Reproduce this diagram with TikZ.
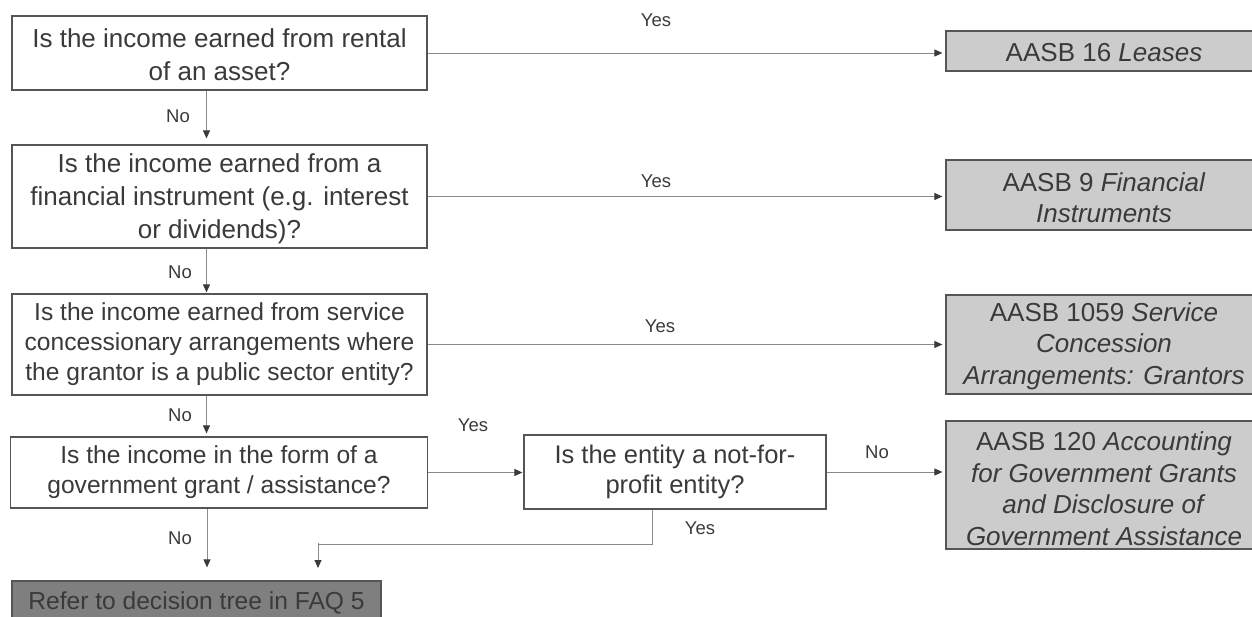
\documentclass[tikz,border=0pt]{standalone}
\usepackage{fontspec}
\setmainfont{Liberation Sans}
\usetikzlibrary{arrows.meta,calc}
\definecolor{txt}{HTML}{3A3A3A}
\definecolor{bord}{HTML}{555555}
\definecolor{lin}{HTML}{8A8A8A}
\definecolor{lightfill}{HTML}{CCCCCC}
\definecolor{darkfill}{HTML}{7F7F7F}
\tikzset{
  qbox/.style={draw=bord, line width=1.2pt, fill=white, text=txt, align=center, inner sep=0pt},
  big/.style={font=\fontsize{26}{33}\selectfont},
  mid/.style={font=\fontsize{24.6}{30}\selectfont},
  rbox/.style={draw=bord, line width=1.2pt, fill=lightfill, text=txt, align=center, inner sep=0pt, font=\fontsize{26}{31.5}\selectfont},
  lbl/.style={text=txt, font=\fontsize{18.5}{22}\selectfont, inner sep=0pt},
  conn/.style={draw=lin, line width=0.9pt, -{Triangle[length=8pt,width=7pt,color=txt]}},
  plain/.style={draw=lin, line width=0.9pt}
}
\begin{document}
\begin{tikzpicture}[x=1pt,y=-1pt]
\useasboundingbox (0,0) rectangle (1252,617);
\clip (0,0) rectangle (1252,617);
% question boxes
\node[qbox,big,minimum width=415pt,minimum height=74pt] (q1) at (219.5,53) {\rule{0pt}{22pt}Is the income earned from rental\\of an asset?};
\node[qbox,big,minimum width=415pt,minimum height=103pt] (q2) at (219.5,196.5) {\rule{0pt}{24pt}Is the income earned from a\\financial instrument (e.g. interest\\or dividends)?};
\node[qbox,mid,minimum width=415pt,minimum height=101pt] (q3) at (219.5,344.5) {Is the income earned from service\\concessionary arrangements where\\the grantor is a public sector entity?};
\node[qbox,mid,minimum width=417pt,minimum height=71pt] (q4) at (219,472.5) {Is the income in the form of a\\government grant / assistance?};
\node[qbox,font=\fontsize{25.5}{30}\selectfont,minimum width=302pt,minimum height=74pt] (nfp) at (675,472) {Is the entity a not-for-\\profit entity?};
% result boxes
\node[rbox,minimum width=316pt,minimum height=40pt] (r1) at (1104,51) {\rule{0pt}{22pt}AASB 16 \textit{Leases}};
\node[rbox,minimum width=316pt,minimum height=70pt] (r2) at (1104,195) {\rule{0pt}{24pt}AASB 9 \textit{Financial}\\\textit{Instruments}};
\node[rbox,minimum width=316pt,minimum height=99pt] (r3) at (1104,344.5) {\rule{0pt}{22pt}AASB 1059 \textit{Service}\\\textit{Concession}\\\textit{Arrangements: Grantors}};
\node[rbox,minimum width=316pt,minimum height=128pt] (r4) at (1104,485) {\rule{0pt}{26pt}AASB 120 \textit{Accounting}\\\textit{for Government Grants}\\\textit{and Disclosure of}\\\textit{Government Assistance}};
\node[draw=bord, line width=1.2pt, fill=darkfill, text=txt, inner sep=0pt, mid, minimum width=369pt, minimum height=44pt] (faq) at (196.5,603) {Refer to decision tree in FAQ 5};
% horizontal Yes arrows
\draw[conn,shorten >=3pt] (q1.east) -- (q1.east -| r1.west);
\draw[conn,shorten >=3pt] (q2.east) -- (q2.east -| r2.west);
\draw[conn,shorten >=3pt] (q3.east) -- (q3.east -| r3.west);
\draw[conn,shorten >=1pt] (q4.east) -- (q4.east -| nfp.west);
\draw[conn,shorten >=3pt] (nfp.east) -- (nfp.east -| r4.west);
% vertical No arrows
\coordinate (c1) at ($(q1.south)+(-13,0)$);
\draw[conn,shorten >=6pt] (c1) -- (c1 |- q2.north);
\coordinate (c2) at ($(q2.south)+(-13,0)$);
\draw[conn,shorten >=1pt] (c2) -- (c2 |- q3.north);
\coordinate (c3) at ($(q3.south)+(-13,0)$);
\draw[conn,shorten >=3pt] (c3) -- (c3 |- q4.north);
\coordinate (c4) at ($(q4.south)+(-12,0)$);
\draw[conn,shorten >=13pt] (c4) -- (c4 |- faq.north);
% NFP yes path
\coordinate (n1) at ($(nfp.south)+(-23,0)$);
\coordinate (yesin) at (318,568);
\draw[plain] (n1) -- ++(0,35) -| ($(yesin)+(0,-8)$);
\draw[conn] (318,543) -- (yesin);
% labels
\node[lbl] (y1) at (656,20) {Yes};
\node[lbl] (y2) at (656,181) {Yes};
\node[lbl] (y3) at (660,326) {Yes};
\node[lbl] (y4) at (473,425) {Yes};
\node[lbl] (y5) at (700,528) {Yes};
\node[lbl] (n0) at (877,452) {No};
\node[lbl] (no1) at (178,116) {No};
\node[lbl] (no2) at (180,272) {No};
\node[lbl] (no3) at (180,415) {No};
\node[lbl] (no4) at (180,538) {No};
\end{tikzpicture}
\end{document}
